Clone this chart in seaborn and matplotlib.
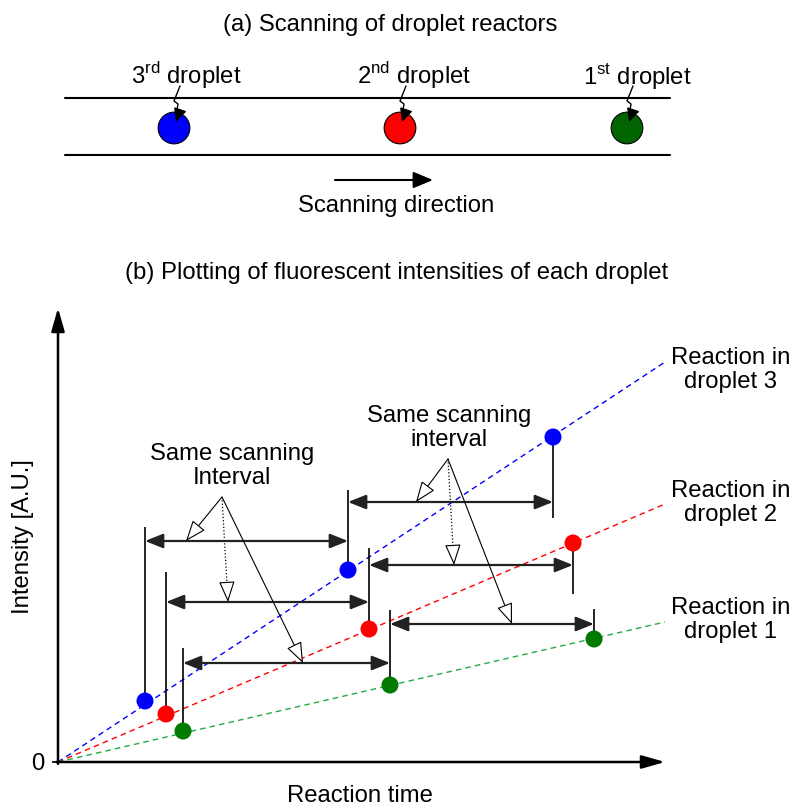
import numpy as np
import pandas as pd
import matplotlib
matplotlib.use("Agg")
import matplotlib.pyplot as plt
import seaborn as sns

# ---------------- data ----------------
droplets = ["droplet 3", "droplet 2", "droplet 1"]
point_colors = {"droplet 3": "#0000ff", "droplet 2": "#ff0000", "droplet 1": "#007a00"}
line_colors = {"droplet 3": "#0000ff", "droplet 2": "#ff0000", "droplet 1": "#22aa44"}

time_d3 = [87, 290, 495]
int_d3 = [61, 192, 325]
time_d2 = [108, 311, 515]
int_d2 = [48, 133, 219]
time_d1 = [125, 332, 536]
int_d1 = [31, 77, 123]

line_time = [0, 607]
line_d3 = [0, 400]
line_d2 = [0, 258]
line_d1 = [0, 140]

# end of the vertical guide drawn from each scanned point
guide_d3 = [235, 272, 244]
guide_d2 = [190, 214, 168]
guide_d1 = [114, 152, 153]
# height of the "scanning interval" arrows
interval_d3 = [221, 260]
interval_d2 = [160, 197]
interval_d1 = [99, 138]

# where the callouts touch the interval arrows
left_targets = [(128, 221), (170, 160), (245, 99)]
right_targets = [(358, 260), (396, 197), (454, 138)]

panel_a_labels = ["3", "2", "1"]
panel_a_sup = ["rd", "nd", "st"]
panel_a_colors = ["#0000ff", "#ff0000", "#006400"]
panel_a_x = [174, 400, 627]

# ---------------- style ----------------
sns.set_theme(style="white")
plt.rcParams["font.family"] = ["Liberation Sans", "DejaVu Sans"]
plt.rcParams["mathtext.fontset"] = "custom"
plt.rcParams["mathtext.rm"] = "Liberation Sans"
plt.rcParams["text.color"] = "black"
plt.rcParams["ytick.color"] = "black"
plt.rcParams["ytick.labelcolor"] = "black"
FS = 17.2

fig = plt.figure(figsize=(7.93, 8.08), dpi=100)
ov = fig.add_axes([0, 0, 1, 1])
ov.set_xlim(0, 793)
ov.set_ylim(808, 0)
ov.axis("off")

# ---------------- panel (a) ----------------
ov.text(390, 25, "(a) Scanning of droplet reactors", ha="center", va="center", fontsize=FS)
ov.plot([65, 670], [98, 98], color="black", lw=1.5)
ov.plot([65, 670], [155, 155], color="black", lw=1.5)

dfa = pd.DataFrame({"x": panel_a_x, "y": [128] * 3, "d": panel_a_labels})
sns.scatterplot(data=dfa, x="x", y="y", hue="d",
                palette=dict(zip(panel_a_labels, panel_a_colors)),
                s=520, edgecolor="black", linewidth=0.8, legend=False, ax=ov, zorder=3)
ov.set_xlim(0, 793)
ov.set_ylim(808, 0)
ov.axis("off")

label_cx = [186, 414, 637]
for n, sup, cx, lx in zip(panel_a_labels, panel_a_sup, panel_a_x, label_cx):
    ov.text(lx, 76, n + r"$^{\mathrm{" + sup + "}}$ droplet", ha="center", va="center", fontsize=FS)
    ov.plot([cx + 6, cx, cx + 4, cx + 3], [86, 101, 104, 110], color="black", lw=1.0,
            zorder=4)
    ov.annotate("", xy=(cx + 2, 122), xytext=(cx + 6, 110),
                arrowprops=dict(arrowstyle="-|>,head_length=0.45,head_width=0.22",
                                color="black", lw=1.0, shrinkA=0, shrinkB=0,
                                mutation_scale=18), zorder=4)

ov.annotate("", xy=(433, 180), xytext=(335, 180),
            arrowprops=dict(arrowstyle="-|>,head_length=0.6,head_width=0.25",
                            color="black", lw=1.5, shrinkA=0, shrinkB=0, mutation_scale=20))
ov.text(396, 206, "Scanning direction", ha="center", va="center", fontsize=FS)

# ---------------- panel (b) ----------------
ov.text(397, 273, "(b) Plotting of fluorescent intensities of each droplet",
        ha="center", va="center", fontsize=FS)

ax = fig.add_axes([58 / 793, 46 / 808, 607 / 793, 454 / 808])
ax.patch.set_alpha(0)

times = [time_d3, time_d2, time_d1]
ints = [int_d3, int_d2, int_d1]
guides = [guide_d3, guide_d2, guide_d1]
intervals = [interval_d3, interval_d2, interval_d1]
lines = [line_d3, line_d2, line_d1]

df_pts = pd.DataFrame({
    "time": sum(times, []),
    "intensity": sum(ints, []),
    "droplet": sum([[d] * 3 for d in droplets], []),
})
df_lines = pd.DataFrame({
    "time": line_time * 3,
    "intensity": sum(lines, []),
    "droplet": sum([[d] * 2 for d in droplets], []),
})

sns.lineplot(data=df_lines, x="time", y="intensity", hue="droplet", style="droplet",
             palette=line_colors, dashes={d: (4, 3) for d in droplets},
             lw=1.0, legend=False, ax=ax, zorder=2)

for t, it, g in zip(times, ints, guides):
    ax.vlines(t, it, g, color="black", lw=1.2, zorder=3)

for t, lv in zip(times, intervals):
    for j in range(2):
        ax.annotate("", xy=(t[j + 1], lv[j]), xytext=(t[j], lv[j]),
                    arrowprops=dict(arrowstyle="<|-|>,head_length=0.55,head_width=0.22",
                                    color="#222222", lw=1.6, shrinkA=0, shrinkB=0,
                                    mutation_scale=20), zorder=4)

sns.scatterplot(data=df_pts, x="time", y="intensity", hue="droplet", palette=point_colors,
                s=150, edgecolor="none", legend=False, ax=ax, zorder=6)

# callouts
head_props = dict(arrowstyle="-|>,head_length=0.65,head_width=0.25",
                  fc="white", ec="black", lw=0.8, shrinkA=0, shrinkB=0, mutation_scale=20)
for targets, src, txt_xy, txt in [
    (left_targets, (222, 497), (232, 466), "Same scanning\nInterval"),
    (right_targets, (448, 459), (449, 428), "Same scanning\ninterval"),
]:
    ov.text(txt_xy[0], txt_xy[1], txt, ha="center", va="center", fontsize=FS, linespacing=1.15)
    for k, tg in enumerate(targets):
        if k == 1:
            # dotted shaft with a solid open head
            px, py = 58 + tg[0], 762 - tg[1]
            vx, vy = px - src[0], py - src[1]
            L = np.hypot(vx, vy)
            bx, by = px - vx / L * 14, py - vy / L * 14
            ov.plot([src[0], bx], [src[1], by], color="black", lw=0.9, ls=":", zorder=7)
            ax.annotate("", xy=tg, xycoords="data", xytext=(bx, by), textcoords=ov.transData,
                        arrowprops=head_props, annotation_clip=False, zorder=7)
        else:
            ax.annotate("", xy=tg, xycoords="data", xytext=src, textcoords=ov.transData,
                        arrowprops=head_props, annotation_clip=False, zorder=7)

# reaction labels
for y, d in zip([370, 503, 620], ["3", "2", "1"]):
    ov.text(731, y, "Reaction in\ndroplet " + d, ha="center", va="center", fontsize=FS,
            linespacing=1.15)

ax.set_xlim(0, 607)
ax.set_ylim(0, 454)
for s in ax.spines.values():
    s.set_visible(False)
ax.set_xticks([])
ax.set_yticks([0])
ax.set_yticklabels(["0"], fontsize=FS)
ax.tick_params(axis="y", left=True, length=4.5, width=1.2, pad=5, color="black",
               labelcolor="black")
ax.set_xlabel("")
ax.set_ylabel("")

ax.annotate("", xy=(0, 1), xycoords="axes fraction", xytext=(0, -0.004),
            arrowprops=dict(arrowstyle="-|>,head_length=0.7,head_width=0.2",
                            color="black", lw=1.8, shrinkA=0, shrinkB=0, mutation_scale=20),
            annotation_clip=False)
ax.annotate("", xy=(1, 0), xycoords="axes fraction", xytext=(-0.003, 0),
            arrowprops=dict(arrowstyle="-|>,head_length=0.7,head_width=0.2",
                            color="black", lw=1.8, shrinkA=0, shrinkB=0, mutation_scale=20),
            annotation_clip=False)

ov.text(360, 796, "Reaction time", ha="center", va="center", fontsize=FS)
ov.text(23, 537, "Intensity [A.U.]", ha="center", va="center", rotation=90, fontsize=FS)

fig.savefig("out.png", dpi=100)
